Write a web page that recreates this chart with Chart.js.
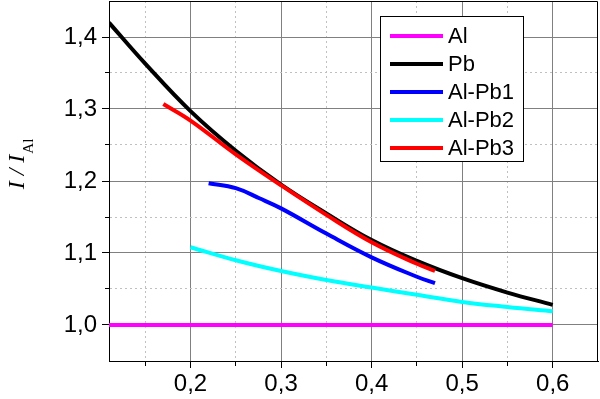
<!DOCTYPE html>
<html>
<head>
<meta charset="utf-8">
<script src="https://cdn.jsdelivr.net/npm/chart.js@4/dist/chart.umd.min.js"></script>
<style>
  html, body { margin: 0; padding: 0; background: #fff; }
  #wrap { width: 600px; height: 399px; }
</style>
</head>
<body>
<div id="wrap"><canvas id="chart"></canvas></div>
<script>
// series
const seriesNames = ['Al', 'Pb', 'Al-Pb1', 'Al-Pb2', 'Al-Pb3']
const seriesColors = ['#ff00ff', '#000000', '#0000ff', '#00ffff', '#ff0000']

const xAl = [0.11, 0.6]
const yAl = [1.0, 1.0]
const xPb = [0.11, 0.15, 0.2, 0.25, 0.3, 0.35, 0.4, 0.45, 0.5, 0.55, 0.6]
const yPb = [1.42, 1.363, 1.297, 1.242, 1.195, 1.155, 1.118, 1.089, 1.065, 1.045, 1.028]
const xPb1 = [0.22, 0.25, 0.276, 0.3, 0.35, 0.4, 0.45, 0.47]
const yPb1 = [1.197, 1.19, 1.176, 1.162, 1.127, 1.094, 1.067, 1.058]
const xPb2 = [0.2, 0.25, 0.3, 0.35, 0.4, 0.45, 0.5, 0.55, 0.6]
const yPb2 = [1.108, 1.090, 1.075, 1.0625, 1.052, 1.042, 1.032, 1.025, 1.019]
const xPb3 = [0.17, 0.2, 0.25, 0.3, 0.35, 0.4, 0.45, 0.47]
const yPb3 = [1.307, 1.284, 1.237, 1.194, 1.153, 1.115, 1.085, 1.075]

// axis ticks (major ones get a label)
const xTicks = [0.15, 0.2, 0.25, 0.3, 0.35, 0.4, 0.45, 0.5, 0.55, 0.6]
const yTicks = [1.0, 1.05, 1.1, 1.15, 1.2, 1.25, 1.3, 1.35, 1.4]

const allX = [xAl, xPb, xPb1, xPb2, xPb3]
const allY = [yAl, yPb, yPb1, yPb2, yPb3]

const isMajor = v => Math.abs(v * 10 - Math.round(v * 10)) < 1e-6
const fmt = v => v.toFixed(1).replace('.', ',')

const datasets = seriesNames.map((name, i) => ({
    label: name,
    data: allX[i].map((x, j) => ({ x: x, y: allY[i][j] })),
    borderColor: seriesColors[i],
    backgroundColor: seriesColors[i],
    borderWidth: 4,
    pointRadius: 0,
    tension: 0.4,
    fill: false,
    order: seriesNames.length - i
}))

const tickFont = { family: "'Liberation Sans', Arial, sans-serif", size: 24 }

function axisOpts(ticks, labelPad, minorOffset) {
    return {
        type: 'linear',
        afterBuildTicks: scale => { scale.ticks = ticks.map(v => ({ value: v })) },
        grid: {
            color: ctx => isMajor(ctx.tick.value) ? '#808080' : '#c0c0c0',
            lineWidth: 1,
            tickLength: 7,
            tickColor: '#000',
            tickWidth: 1,
            tickBorderDash: ctx => isMajor(ctx.tick.value) ? [] : [4, 3],
            tickBorderDashOffset: ctx => isMajor(ctx.tick.value) ? 0 : minorOffset
        },
        border: {
            display: true,
            color: '#000',
            width: 1,
            dash: ctx => (ctx.tick && !isMajor(ctx.tick.value)) ? [2, 3] : []
        },
        ticks: {
            autoSkip: false,
            maxRotation: 0,
            color: '#000',
            font: tickFont,
            padding: labelPad,
            callback: v => isMajor(v) ? fmt(v) : ''
        }
    }
}

// no extra room for the edge labels, the plot box is fixed
const noPad = scale => {
    scale.paddingTop = 0
    scale.paddingBottom = 0
    scale.paddingLeft = 0
    scale.paddingRight = 0
}

const xOpts = axisOpts(xTicks, 2, 0)
xOpts.min = 0.11
xOpts.max = 0.65
xOpts.afterFit = scale => { scale.height = 38; noPad(scale) }

const yOpts = axisOpts(yTicks, 5, 4)
yOpts.min = 0.95
yOpts.max = 1.45
yOpts.afterFit = scale => { scale.width = 109; noPad(scale) }

// frame round the plot, legend box and y title
const extras = {
    id: 'extras',
    afterDraw(chart) {
        const { ctx, chartArea: a } = chart
        ctx.save()
        ctx.strokeStyle = '#000'
        ctx.lineWidth = 1
        ctx.beginPath()
        ctx.moveTo(a.left, a.top + 0.5)
        ctx.lineTo(a.right - 0.5, a.top + 0.5)
        ctx.lineTo(a.right - 0.5, a.bottom)
        ctx.stroke()

        // legend
        const lx = 380.5, ly = 16.5, lw = 143, lh = 145
        ctx.fillStyle = '#fff'
        ctx.fillRect(lx, ly, lw, lh)
        ctx.strokeRect(lx, ly, lw, lh)
        ctx.font = "22px 'Liberation Sans', Arial, sans-serif"
        ctx.textBaseline = 'middle'
        ctx.textAlign = 'left'
        chart.data.datasets.forEach((ds, i) => {
            const y = 36 + 28 * i
            ctx.strokeStyle = ds.borderColor
            ctx.lineWidth = 4
            ctx.beginPath()
            ctx.moveTo(390, y)
            ctx.lineTo(443, y)
            ctx.stroke()
            ctx.fillStyle = '#000'
            ctx.fillText(ds.label, 448, y + 1)
        })

        // y title: I / I_Al
        ctx.translate(24, 164)
        ctx.rotate(-Math.PI / 2)
        ctx.fillStyle = '#000'
        ctx.textBaseline = 'alphabetic'
        ctx.font = "italic 24px 'Liberation Serif', 'Times New Roman', serif"
        const main = 'I / I'
        const w = ctx.measureText(main).width
        const sub = 'Al'
        ctx.font = "15px 'Liberation Serif', 'Times New Roman', serif"
        const ws = ctx.measureText(sub).width
        const x0 = -(w + ws + 1) / 2
        ctx.font = "italic 24px 'Liberation Serif', 'Times New Roman', serif"
        ctx.fillText(main, x0, 0)
        ctx.font = "15px 'Liberation Serif', 'Times New Roman', serif"
        ctx.fillText(sub, x0 + w + 1, 9)
        ctx.restore()
    }
}

new Chart(document.getElementById('chart'), {
    type: 'line',
    data: { datasets: datasets },
    options: {
        responsive: true,
        maintainAspectRatio: false,
        animation: false,
        layout: { padding: { top: 1, right: 2, bottom: 0, left: 0 } },
        plugins: {
            legend: { display: false },
            tooltip: { enabled: false }
        },
        scales: { x: xOpts, y: yOpts }
    },
    plugins: [extras]
})
</script>
</body>
</html>
